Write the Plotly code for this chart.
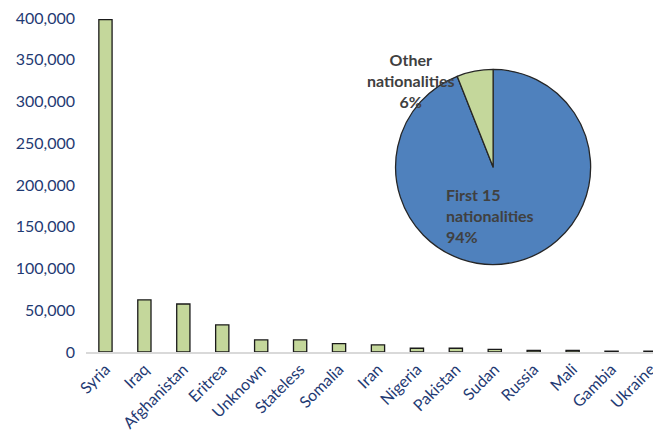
import plotly.graph_objects as go

countries = ["Syria", "Iraq", "Afghanistan", "Eritrea", "Unknown", "Stateless", "Somalia",
             "Iran", "Nigeria", "Pakistan", "Sudan", "Russia", "Mali", "Gambia", "Ukraine"]
applicants = [398000, 62500, 57500, 32500, 14500, 14500, 10000,
              8500, 4500, 4500, 3200, 2000, 2000, 1000, 1000]

pie_labels = ["First 15 nationalities", "Other nationalities"]
pie_values = [94, 6]

y_ticks = [0, 50000, 100000, 150000, 200000, 250000, 300000, 350000, 400000]

FONT = "Lato"
AXIS_COLOR = "#1F3A73"
GREEN = "#C4D79B"
BLUE = "#4F81BD"
LABEL_COLOR = "#404040"

fig = go.Figure()
fig.add_trace(go.Bar(
    x=countries, y=applicants,
    marker=dict(color=GREEN, line=dict(color="#1a1a1a", width=1.3)),
    width=0.34, showlegend=False,
))

total = sum(pie_values)
fig.add_trace(go.Pie(
    labels=pie_labels, values=pie_values,
    marker=dict(colors=[BLUE, GREEN], line=dict(color="#262626", width=1.3)),
    sort=False, direction="clockwise", rotation=0,
    textinfo="none", hoverinfo="label+percent",
    domain=dict(x=[0.535, 0.881], y=[0.262, 0.846]),
    showlegend=False,
))

pct = [round(v / total * 100) for v in pie_values]
fig.add_annotation(
    text="<b>Other<br>nationalities<br>%d%%</b>" % pct[1],
    xref="paper", yref="paper", x=0.565, y=0.91, xanchor="center", yanchor="top",
    showarrow=False, align="center",
    font=dict(family=FONT, size=16, color=LABEL_COLOR),
)
fig.add_annotation(
    text="<b>First 15<br>nationalities<br>%d%%</b>" % pct[0],
    xref="paper", yref="paper", x=0.622, y=0.505, xanchor="left", yanchor="top",
    showarrow=False, align="left",
    font=dict(family=FONT, size=16, color=LABEL_COLOR),
)

fig.update_layout(
    width=653, height=427,
    margin=dict(l=78, r=0, t=10, b=83),
    paper_bgcolor="white", plot_bgcolor="white",
    font=dict(family=FONT, color=AXIS_COLOR, size=16),
    xaxis=dict(
        range=[-0.5, 14.27], tickangle=-45, showgrid=False, automargin=False,
        showline=True, linecolor="#D9D9D9", linewidth=1.5,
        ticks="", tickfont=dict(family=FONT, size=16, color=AXIS_COLOR),
        ticklabeloverflow="allow",
    ),
    yaxis=dict(
        range=[0, 400000], tickvals=y_ticks, tickformat=",d", automargin=False,
        showgrid=False, zeroline=False, showline=False, ticks="",
        tickfont=dict(family=FONT, size=16, color=AXIS_COLOR), ticklabelstandoff=10,
        ticklabeloverflow="allow",
    ),
)

fig.write_html("out.html")
